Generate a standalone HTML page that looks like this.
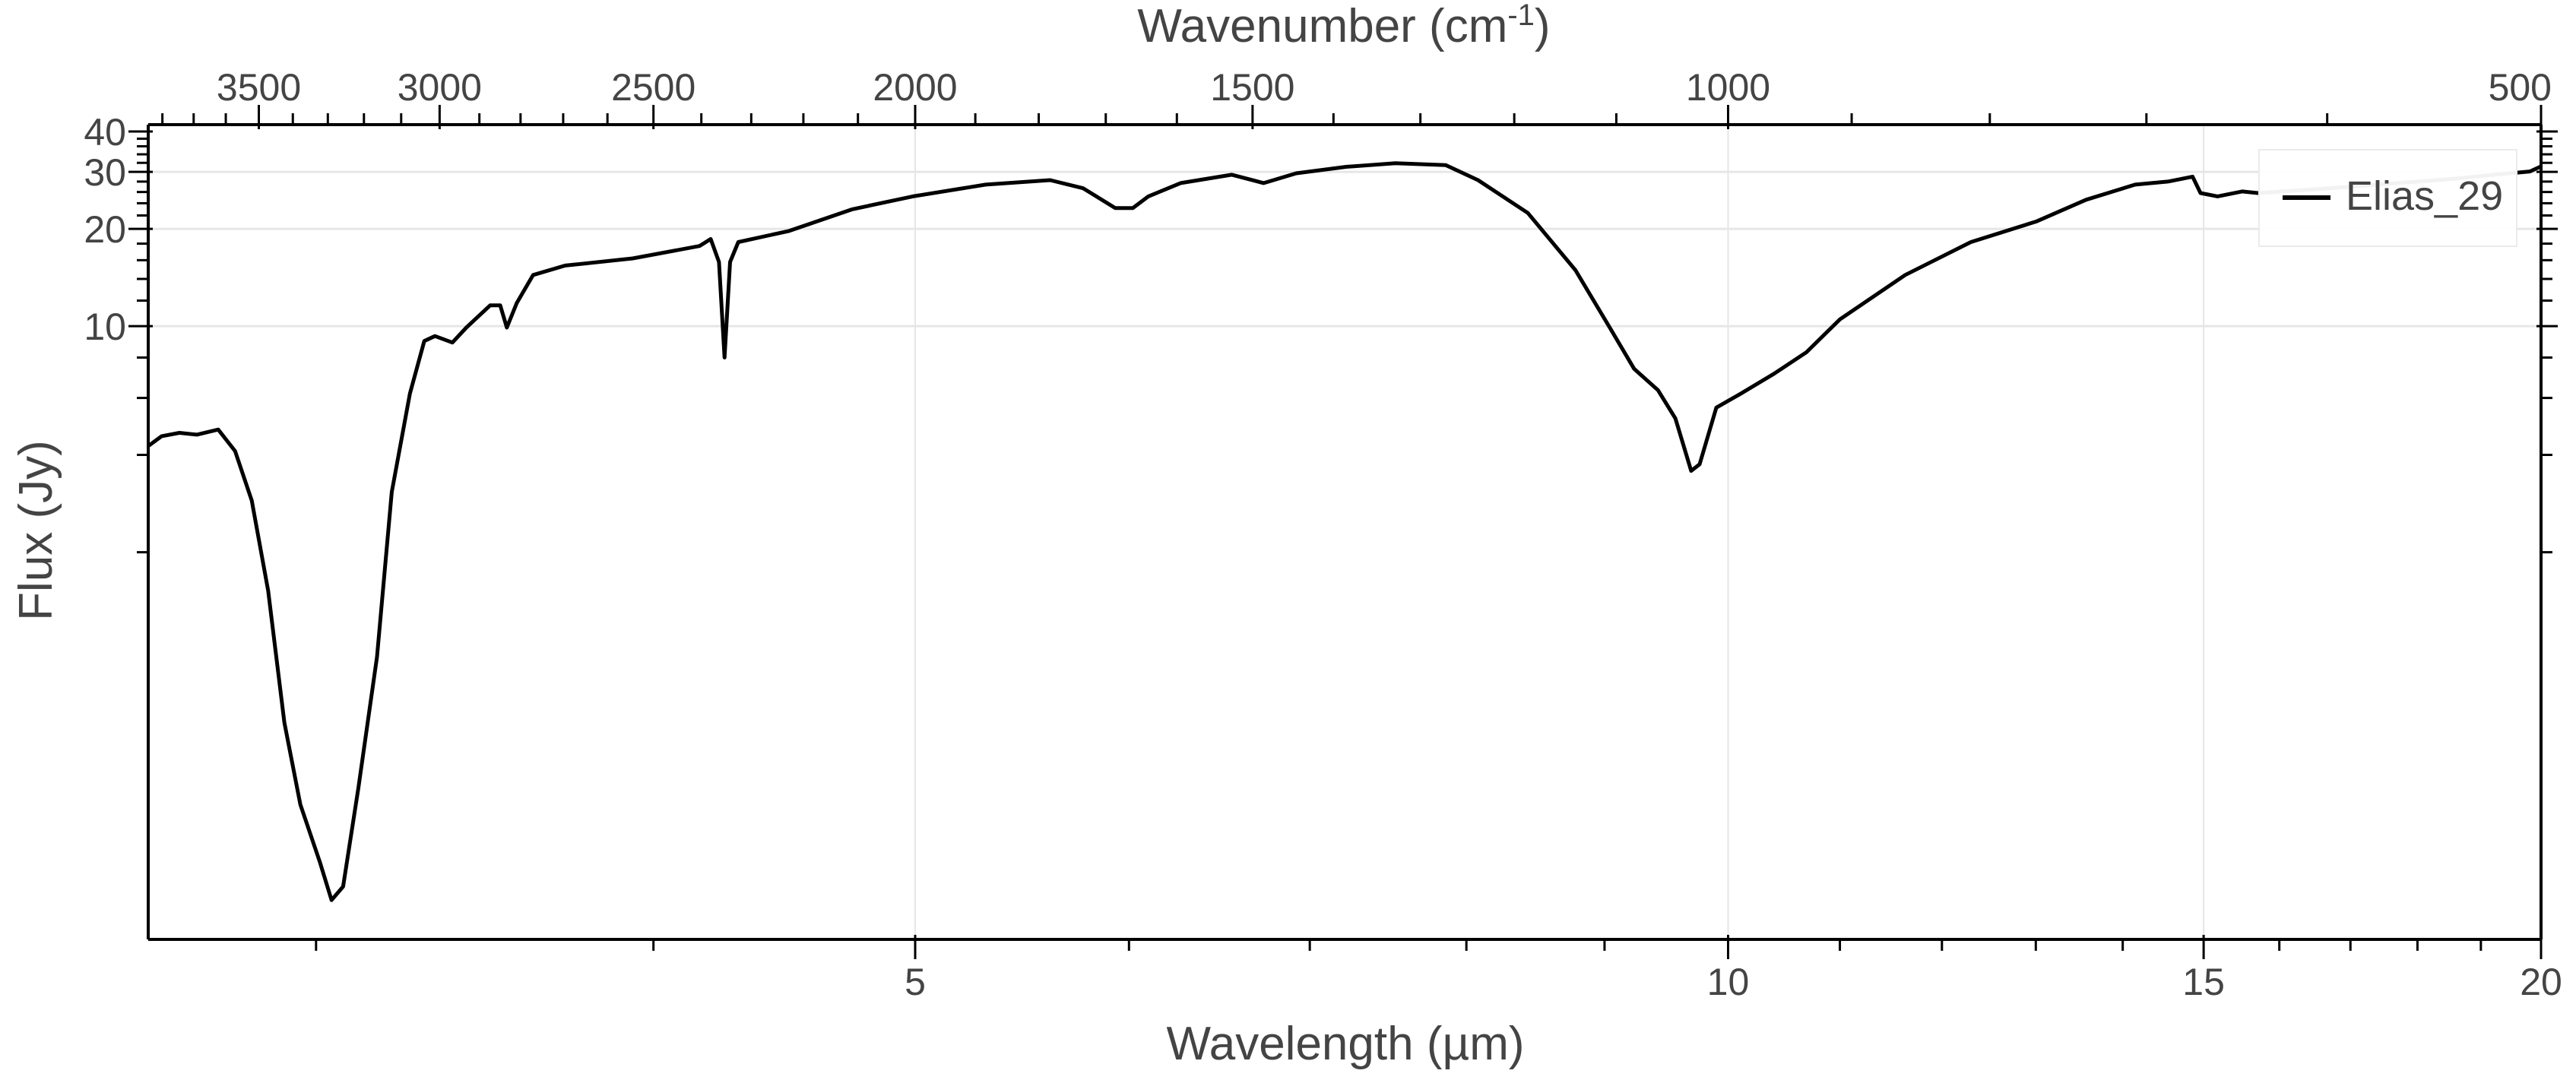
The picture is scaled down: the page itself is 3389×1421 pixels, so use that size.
<!DOCTYPE html>
<html><head><meta charset="utf-8"><style>
html,body{margin:0;padding:0;background:#fff;}
svg{display:block;font-family:"Liberation Sans",Arial,sans-serif;}
</style></head><body>
<svg id="chart" width="3389" height="1421" viewBox="0 0 3389 1421" xmlns="http://www.w3.org/2000/svg">
<rect width="3389" height="1421" fill="#fff"/>
<g id="grid"></g>
<g id="series"></g>
<g id="axes"></g>
<text x="1768" y="55" font-size="62" fill="#444" text-anchor="middle">Wavenumber (cm<tspan font-size="40" dy="-22">-1</tspan><tspan dy="22">)</tspan></text>
<text x="1770" y="1394" font-size="62" fill="#444" text-anchor="middle">Wavelength (µm)</text>
<text transform="translate(68,698) rotate(-90)" font-size="62" fill="#444" text-anchor="middle">Flux (Jy)</text>
<g>
<rect x="2972" y="197" width="339" height="127" fill="#fff" fill-opacity="0.95" stroke="#ebebeb" stroke-width="2"/>
<line x1="3003" y1="260" x2="3066" y2="260" stroke="#000" stroke-width="6"/>
<text x="3086" y="276" font-size="54" fill="#444">Elias_29</text>
</g>
</svg>
<script>
const wavelengths = [2.60,2.63,2.67,2.71,2.76,2.80,2.84,2.88,2.92,2.96,3.01,3.04,3.07,3.11,3.16,3.20,3.25,3.29,3.32,3.37,3.41,3.48,3.51,3.53,3.56,3.61,3.71,3.93,4.16,4.20,4.23,4.25,4.27,4.30,4.49,4.74,4.99,5.31,5.61,5.77,5.93,6.02,6.10,6.27,6.55,6.73,6.92,7.22,7.53,7.86,8.08,8.43,8.78,9.04,9.23,9.42,9.56,9.69,9.76,9.90,10.11,10.40,10.69,11.00,11.63,12.30,13.01,13.57,14.15,14.55,14.86,14.96,15.18,15.50,15.71,16.5,17.5,18.5,19.3,19.81,20.0];
const fluxes = [4.26,4.57,4.68,4.62,4.79,4.11,2.89,1.52,0.595,0.332,0.220,0.168,0.185,0.372,0.95,3.07,6.19,9.0,9.32,8.9,9.9,11.6,11.6,9.9,11.8,14.4,15.4,16.2,17.7,18.6,15.8,8.0,15.8,18.2,19.7,23.0,25.2,27.4,28.3,26.7,23.2,23.2,25.2,27.7,29.4,27.7,29.7,31.1,31.9,31.5,28.3,22.4,14.9,9.9,7.38,6.34,5.19,3.57,3.74,5.6,6.19,7.13,8.3,10.5,14.4,18.2,21.1,24.6,27.4,28.0,29.0,25.8,25.2,26.1,25.8,26.5,27.5,28.5,29.5,30.1,31.2];
const bottomMajor = [5,10,15,20];
const bottomMinor = [3,4,6,7,8,9,11,12,13,14,16,17,18,19];
const topMajor = [3500,3000,2500,2000,1500,1000,500];
const topMinor = [3800,3700,3600,3400,3300,3200,3100,2900,2800,2700,2600,2400,2300,2200,2100,1900,1800,1700,1600,1400,1300,1200,1100,900,800,700,600];
const yMajor = [10,20,30,40];
const yMinor = [2,4,6,8,12,14,16,18,22,24,26,28,32,34,36,38];
const xGridVals = [5,10,15];
const yGridVals = [10,20,30];

const L=195,R=3343,T=164,B=1236;
const X0=Math.log2(2.60), X1=Math.log2(20);
const Y0=Math.log10(0.127), Y1=Math.log10(42);
function xs(l){return L+(Math.log2(l)-X0)/(X1-X0)*(R-L);}
function ys(f){return B-(Math.log10(f)-Y0)/(Y1-Y0)*(B-T);}
const NS="http://www.w3.org/2000/svg";
function mk(tag,attrs,parent){const e=document.createElementNS(NS,tag);for(const k in attrs)e.setAttribute(k,attrs[k]);parent.appendChild(e);return e;}
const grid=document.getElementById('grid'),axes=document.getElementById('axes'),series=document.getElementById('series');

xGridVals.forEach(v=>{const e=mk('line',{x1:xs(v),x2:xs(v),y1:T,y2:B,stroke:'#e6e6e6','stroke-width':2},grid);

});
yGridVals.forEach(v=>{const e=mk('line',{x1:L,x2:R,y1:ys(v),y2:ys(v),stroke:'#e6e6e6','stroke-width':3},grid);

});

let d='';
wavelengths.forEach((w,i)=>{d+=(i?'L':'M')+xs(w).toFixed(1)+' '+ys(fluxes[i]).toFixed(1);});
const path=mk('path',{d:d,fill:'none',stroke:'#000','stroke-width':5,'stroke-linejoin':'round'},series);



// axis lines
[[L,B,R,B,'x-axis-line'],[L,T,R,T,'top-axis-line'],[L,T,L,B,'y-axis-line'],[R,T,R,B,'right-axis-line']].forEach(a=>{
const e=mk('line',{x1:a[0],y1:a[1],x2:a[2],y2:a[3],stroke:'#000','stroke-width':4},axes);

});

// bottom
bottomMajor.forEach(v=>{const x=xs(v);
const t=mk('line',{x1:x,x2:x,y1:B-6,y2:B+26,stroke:'#000','stroke-width':3},axes);


const lb=mk('text',{x:x,y:1309,'font-size':50,fill:'#444','text-anchor':'middle'},axes);lb.textContent=v;

});
bottomMinor.forEach(v=>{const x=xs(v);
const t=mk('line',{x1:x,x2:x,y1:B,y2:B+15,stroke:'#000','stroke-width':3},axes);

});
// top
topMajor.forEach(v=>{const x=xs(1e4/v);
const t=mk('line',{x1:x,x2:x,y1:T-26,y2:T+6,stroke:'#000','stroke-width':3},axes);


const lb=mk('text',{x:x,y:132,'font-size':50,fill:'#444','text-anchor':v==500?'end':'middle'},axes);lb.textContent=v;
if(v==500)lb.setAttribute('x',x+14);

});
topMinor.forEach(v=>{const x=xs(1e4/v);
const t=mk('line',{x1:x,x2:x,y1:T-15,y2:T,stroke:'#000','stroke-width':3},axes);

});
// left & right y
yMajor.forEach(v=>{const y=ys(v);
const t=mk('line',{x1:L-26,x2:L+6,y1:y,y2:y,stroke:'#000','stroke-width':3},axes);


const t2=mk('line',{x1:R-6,x2:R+22,y1:y,y2:y,stroke:'#000','stroke-width':3},axes);


const lb=mk('text',{x:166,y:y+18,'font-size':50,fill:'#444','text-anchor':'end'},axes);lb.textContent=v;

});
yMinor.forEach(v=>{const y=ys(v);
const t=mk('line',{x1:L-15,x2:L,y1:y,y2:y,stroke:'#000','stroke-width':3},axes);


const t2=mk('line',{x1:R,x2:R+15,y1:y,y2:y,stroke:'#000','stroke-width':3},axes);

});
</script>
</body></html>
